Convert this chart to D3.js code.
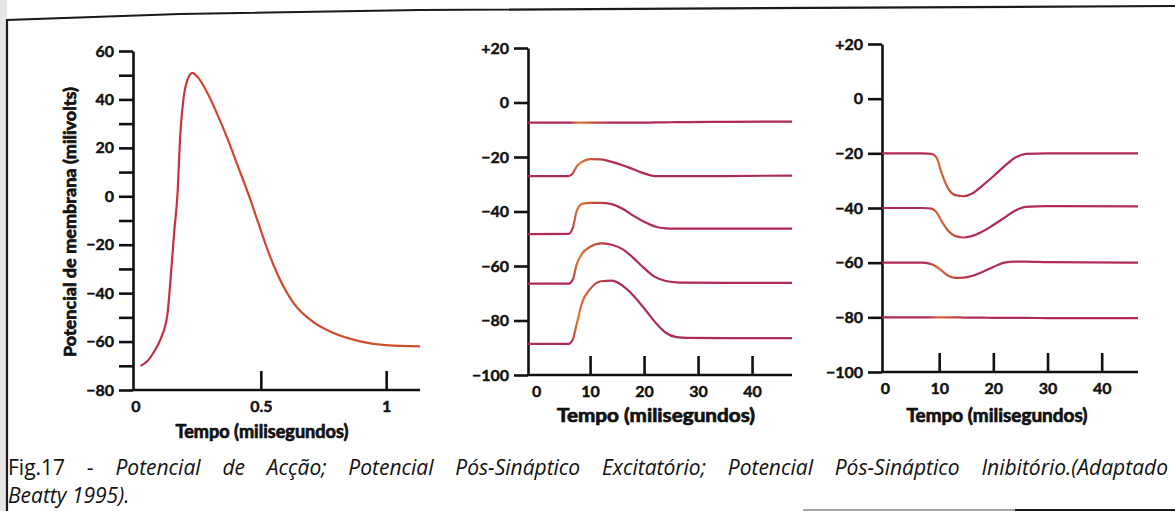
<!DOCTYPE html>
<html>
<head>
<meta charset="utf-8">
<script src="https://cdn.jsdelivr.net/npm/d3@7"></script>
<style>
  body { margin: 0; background: #fff; }
  svg { display: block; }
  .axis path, .axis line { stroke: #111; stroke-width: 2.6px; }
  .axis text { font-family: Lato, "DejaVu Sans", sans-serif; font-weight: bold; font-size: 16px; fill: #111; stroke: #111; stroke-width: 0.45px; }
  .title { font-family: Lato, "DejaVu Sans", sans-serif; font-weight: bold; font-size: 18px; fill: #111; stroke: #111; stroke-width: 0.7px; }
  .caption { font-family: "Open Sans", Lato, sans-serif; font-size: 21px; fill: #111; }
</style>
</head>
<body>
<svg id="fig" width="1175" height="511"></svg>
<script>
// Potencial de accao (ms, mV)
var apTime = [0.02, 0.048, 0.072, 0.1, 0.127, 0.143, 0.155, 0.167, 0.179, 0.191, 0.207, 0.227, 0.25, 0.29, 0.33, 0.37, 0.41, 0.45, 0.49, 0.53, 0.57, 0.63, 0.71, 0.79, 0.9, 1.0, 1.135];
var apVolt = [-70, -68, -64.5, -59, -49, -30, -14, 0, 26, 40, 48, 51, 49, 42, 33, 23, 12, 1, -11, -23, -33, -44, -52, -56.5, -60, -61.5, -62];

// Potencial pos-sinaptico excitatorio (ms, mV)
var epspTime = [-1.5, 6, 6.8, 7.5, 8.5, 10, 12, 14, 16, 18, 20, 22, 24, 26, 28, 35, 47.4];
var epsp1 = [-7.4, -7.4, -7.4, -7.4, -7.4, -7.4, -7.4, -7.4, -7.4, -7.4, -7.4, -7.3, -7.3, -7.2, -7.2, -7.1, -7];
var epsp2 = [-27, -27, -26, -23.5, -21.8, -20.8, -20.9, -21.8, -23, -24.5, -26, -27, -27, -27, -27, -27, -26.8];
var epsp3 = [-48.3, -48.2, -46, -40, -37.2, -36.8, -36.8, -37.3, -39, -41.5, -43.8, -45.5, -46.2, -46.3, -46.3, -46.3, -46.3];
var epsp4 = [-66.5, -66.5, -65, -59.5, -55.5, -53, -51.7, -52.2, -53.8, -57, -60.8, -64, -65.5, -66, -66.1, -66.2, -66.2];
var epsp5 = [-88.6, -88.6, -87, -81.5, -73.5, -68.5, -65.6, -65.4, -67.2, -70.8, -75.5, -80.5, -84.5, -86.1, -86.4, -86.5, -86.5];

// Potencial pos-sinaptico inibitorio (ms, mV)
var ipspTime = [-0.55, 7, 8.6, 9.5, 10.5, 11.7, 13, 14.5, 16, 18, 20, 22, 24, 26, 30, 46.7];
var ipsp1 = [-20, -20, -20.2, -21.5, -27.5, -33, -35.3, -35.7, -34.8, -31.8, -28.4, -24.8, -21.6, -20.2, -20, -20];
var ipsp2 = [-40, -40, -40.2, -41.5, -45, -48.4, -50.3, -50.8, -50.3, -48.6, -46.2, -43.6, -41, -39.6, -39.3, -39.4];
var ipsp3 = [-60, -60, -60.6, -61.5, -63, -64.8, -65.6, -65.5, -64.9, -63.4, -61.6, -60, -59.6, -59.6, -59.8, -60];
var ipsp4 = [-80, -80, -80, -80, -80, -80, -80, -80.1, -80.1, -80.1, -80.2, -80.2, -80.2, -80.2, -80.3, -80.3];

// ticks
var apTicksY = [-80, -70, -60, -50, -40, -30, -20, -10, 0, 10, 20, 30, 40, 50, 60];
var apLabelsY = [-80, -60, -40, -20, 0, 20, 40, 60];
var apTicksX = [0, 0.5, 1];
var pspTicksY = [-100, -80, -60, -40, -20, 0, 20];
var pspTicksX = [0, 10, 20, 30, 40];

var xTitle = "Tempo (milisegundos)";
var yTitle = "Potencial de membrana (milivolts)";
var captionLead = "Fig.17 - ";
var captionRest = "Potencial de Acção; Potencial Pós-Sináptico Excitatório; Potencial Pós-Sináptico Inibitório.(Adaptado";
var captionLine2 = "Beatty 1995).";

var svg = d3.select("#fig");
var defs = svg.append("defs");

// scanned page edge + frame
svg.append("rect").attr("x", 0).attr("y", 0).attr("width", 7).attr("height", 511).attr("fill", "#e6e6e6");
svg.append("path")
    .attr("d", "M7,511 L7,20 L180,14 L420,10 L1175,6")
    .attr("fill", "none").attr("stroke", "#1a1a1a").attr("stroke-width", 2.2);
svg.append("line").attr("x1", 803).attr("x2", 1015).attr("y1", 510).attr("y2", 510)
    .attr("stroke", "#888").attr("stroke-width", 1.5);
svg.append("line").attr("x1", 1015).attr("x2", 1175).attr("y1", 510).attr("y2", 510)
    .attr("stroke", "#1a1a1a").attr("stroke-width", 2.2);

function zip(t, v) { return t.map(function(d, i) { return [d, v[i]]; }); }

// "+20", "0", "−20"
function fmtSigned(d) {
  if (d > 0) return "+" + d;
  if (d < 0) return "\u2212" + (-d);
  return "0";
}
// "20", "0", "−20"
function fmtPlain(d) {
  return d < 0 ? "\u2212" + (-d) : String(d);
}

function gradient(id, x1, x2, stops) {
  var g = defs.append("linearGradient").attr("id", id)
      .attr("gradientUnits", "userSpaceOnUse")
      .attr("x1", x1).attr("x2", x2).attr("y1", 0).attr("y2", 0);
  stops.forEach(function(s) {
    g.append("stop").attr("offset", s[0]).attr("stop-color", s[1]);
  });
}

// generic panel: draws axes, returns the scales
function panel(o) {
  var x = d3.scaleLinear().domain(o.xDomain).range(o.xRange);
  var y = d3.scaleLinear().domain(o.yDomain).range(o.yRange);
  var g = svg.append("g");

  var ya = d3.axisLeft(y).tickValues(o.yTicks).tickSize(14).tickSizeOuter(0).tickPadding(5)
      .tickFormat(function(d) { return o.yLabels.indexOf(d) >= 0 ? o.yFmt(d) : ""; });
  g.append("g").attr("class", "axis")
      .attr("transform", "translate(" + o.xRange[0] + ",0)")
      .call(ya);

  var xa = d3.axisBottom(x).tickValues(o.xTicks).tickSizeInner(-19).tickSizeOuter(0).tickPadding(11)
      .tickFormat(function(d) { return String(d); });
  var gx = g.append("g").attr("class", "axis")
      .attr("transform", "translate(0," + o.yRange[0] + ")")
      .call(xa);
  gx.selectAll(".tick").filter(function(d) { return d === 0; }).select("line").remove();
  gx.selectAll(".domain").attr("d", "M" + o.xRange[0] + ",0H" + o.xRange[1]);

  g.append("text").attr("class", "title")
      .attr("x", o.titleX).attr("y", o.titleY)
      .attr("text-anchor", "middle")
      .attr("textLength", o.titleW).attr("lengthAdjust", "spacingAndGlyphs")
      .text(xTitle);

  return { x: x, y: y, g: g };
}

function trace(p, data, stroke) {
  var line = d3.line().curve(d3.curveMonotoneX)
      .x(function(d) { return p.x(d[0]); })
      .y(function(d) { return p.y(d[1]); });
  p.g.append("path").datum(data)
      .attr("fill", "none")
      .attr("stroke", stroke)
      .attr("stroke-width", 2.2)
      .attr("d", line);
}

// left: potencial de accao
var ap = panel({
  xDomain: [-0.01, 1.135], xRange: [133, 420],
  yDomain: [-80, 60], yRange: [390, 51],
  yTicks: apTicksY, yLabels: apLabelsY, yFmt: fmtPlain,
  xTicks: apTicksX,
  titleX: 262, titleY: 438, titleW: 173
});
ap.g.append("text").attr("class", "title")
    .attr("transform", "translate(76,222) rotate(-90)")
    .attr("text-anchor", "middle")
    .attr("textLength", 270).attr("lengthAdjust", "spacingAndGlyphs")
    .style("font-size", "17px")
    .text(yTitle);
gradient("gAp", 133, 420, [[0, "#c42a4c"], [0.15, "#c83040"], [0.25, "#d0462e"], [1, "#cc4e2c"]]);
trace(ap, zip(apTime, apVolt), "url(#gAp)");

// middle: PPSE
var ex = panel({
  xDomain: [-1.5, 47.4], xRange: [528, 792],
  yDomain: [-100, 20], yRange: [375, 48],
  yTicks: pspTicksY, yLabels: pspTicksY, yFmt: fmtSigned,
  xTicks: pspTicksX,
  titleX: 656, titleY: 422, titleW: 198
});
gradient("gEx", 528, 792, [[0, "#ad2a5a"], [0.16, "#ad2a5a"], [0.19, "#dc7a30"], [0.25, "#c84a3a"], [0.32, "#ad2a5a"], [1, "#ad2a5a"]]);
[epsp1, epsp2, epsp3, epsp4, epsp5].forEach(function(v) {
  trace(ex, zip(epspTime, v), "url(#gEx)");
});

// right: PPSI
var inh = panel({
  xDomain: [-0.55, 46.7], xRange: [882, 1138],
  yDomain: [-100, 20], yRange: [372, 44],
  yTicks: pspTicksY, yLabels: pspTicksY, yFmt: fmtSigned,
  xTicks: pspTicksX,
  titleX: 997, titleY: 422, titleW: 181
});
gradient("gIn", 882, 1138, [[0, "#b02a5a"], [0.18, "#b02a5a"], [0.22, "#d86a32"], [0.28, "#c24a40"], [0.35, "#b02a5a"], [1, "#b02a5a"]]);
[ipsp1, ipsp2, ipsp3, ipsp4].forEach(function(v) {
  trace(inh, zip(ipspTime, v), "url(#gIn)");
});

// caption, first line justified
var cap = svg.append("text").attr("class", "caption").attr("x", 8).attr("y", 475);
cap.append("tspan").text(captionLead);
cap.append("tspan").attr("font-style", "italic").text(captionRest);
var natural = cap.node().getComputedTextLength();
var spaces = (captionLead + captionRest).split(" ").length - 1;
cap.attr("word-spacing", Math.max(0, (1160 - natural) / spaces));

svg.append("text").attr("class", "caption").attr("font-style", "italic")
    .attr("x", 8).attr("y", 503).text(captionLine2);
</script>
</body>
</html>
